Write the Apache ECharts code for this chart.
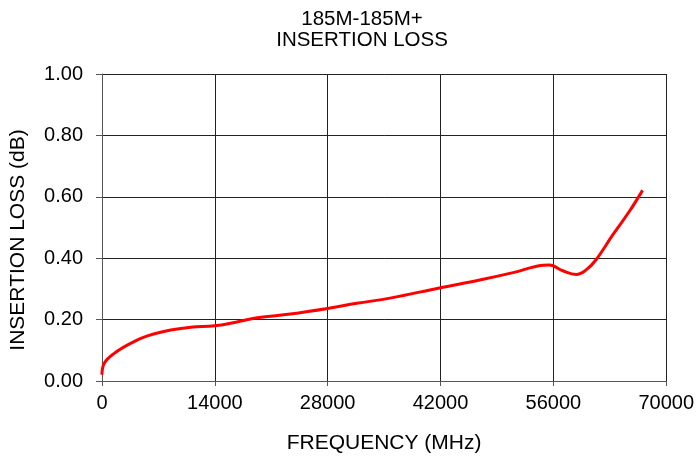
<!DOCTYPE html>
<html>
<head>
<meta charset="utf-8">
<script src="https://cdn.jsdelivr.net/npm/echarts@6/dist/echarts.min.js"></script>
<style>
html,body{margin:0;padding:0;background:#fff;}
#chart{width:697px;height:459px;}
</style>
</head>
<body>
<div id="chart"></div>
<script>
const titleLines = ['185M-185M+', 'INSERTION LOSS'];
const xAxisName = 'FREQUENCY (MHz)';
const yAxisName = 'INSERTION LOSS (dB)';
const freq = [0, 285, 1520, 3590, 5650, 8940, 11000, 13980, 15950, 19250, 23370, 27990, 31600, 35740, 42000, 46870, 51000, 54700, 55530, 57170, 58830, 60070, 61300, 63370, 65420, 67070];
const loss = [0.02, 0.058, 0.09, 0.123, 0.147, 0.168, 0.175, 0.180, 0.188, 0.206, 0.218, 0.236, 0.253, 0.270, 0.304, 0.329, 0.353, 0.377, 0.378, 0.359, 0.347, 0.362, 0.395, 0.476, 0.552, 0.621];

const font = 'Liberation Sans, Arial, sans-serif';
const chart = echarts.init(document.getElementById('chart'), null, {renderer: 'canvas'});
chart.setOption({
  animation: false,
  backgroundColor: '#fff',
  title: {
    text: titleLines.join('\n'),
    left: 362,
    textAlign: 'center',
    top: 9,
    padding: 0,
    textStyle: {fontFamily: font, fontSize: 20.5, fontWeight: 'normal', color: '#000', lineHeight: 21}
  },
  grid: {left: 101, right: 30, top: 74, bottom: 78},
  xAxis: {
    type: 'value', min: 0, max: 70000, interval: 14000,
    name: xAxisName, nameLocation: 'middle', nameGap: 52,
    nameTextStyle: {fontFamily: font, fontSize: 21, color: '#000'},
    axisLine: {show: true, lineStyle: {color: '#555', width: 1}},
    axisTick: {show: true, length: 5, lineStyle: {color: '#555'}},
    axisLabel: {fontFamily: font, fontSize: 20, color: '#000', margin: 12, formatter: v => String(v)},
    splitLine: {show: true, lineStyle: {color: '#222', width: 1}}
  },
  yAxis: {
    type: 'value', min: 0, max: 1, interval: 0.2,
    name: yAxisName, nameLocation: 'middle', nameGap: 73,
    nameTextStyle: {fontFamily: font, fontSize: 21, color: '#000', padding: [0, 25, 0, 0]},
    axisLine: {show: true, lineStyle: {color: '#555', width: 1}},
    axisTick: {show: true, length: 6, lineStyle: {color: '#555'}},
    axisLabel: {fontFamily: font, fontSize: 20, color: '#000', margin: 19, formatter: v => v.toFixed(2)},
    splitLine: {show: true, lineStyle: {color: '#222', width: 1}}
  },
  series: [{
    type: 'line',
    data: freq.map((f, i) => [f, loss[i]]),
    smooth: 0.4,
    symbol: 'none',
    lineStyle: {color: '#ff0000', width: 3},
    clip: false
  }]
});
</script>
</body>
</html>
